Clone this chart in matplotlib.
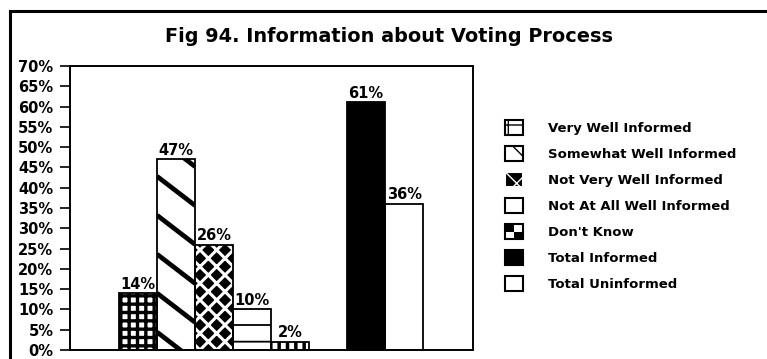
import matplotlib
matplotlib.use("Agg")
import matplotlib.pyplot as plt
from matplotlib.patches import Rectangle, Patch
from matplotlib.legend_handler import HandlerBase
from matplotlib.lines import Line2D

# ---- data -------------------------------------------------------------
categories = [
    "Very Well Informed",
    "Somewhat Well Informed",
    "Not Very Well Informed",
    "Not At All Well Informed",
    "Don't Know",
    "Total Informed",
    "Total Uninformed",
]
values = [14, 47, 26, 10, 2, 61, 36]
y_ticks = list(range(0, 75, 5))
y_tick_labels = [f"{t}%" for t in y_ticks]
title = "Fig 94. Information about Voting Process"

# ---- layout -----------------------------------------------------------
plt.rcParams["font.family"] = ["DejaVu Sans"]
fig = plt.figure(figsize=(7.67, 3.59), dpi=100)
ax = fig.add_axes([0.0913, 0.0251, 0.5254, 0.7911])

# one empty slot separates the five answers from the two totals
slots = [i if i < 5 else i + 1 for i in range(len(values))]

# fill styles per series: (facecolor, hatch, hatch colour, hatch width)
styles = [
    ("white", "++", "black", 2.4),
    ("white", None, "black", 1.0),
    ("black", "xx", "white", 2.2),
    ("white", "-", "black", 1.3),
    ("white", "||", "black", 2.5),
    ("black", None, "black", 1.0),
    ("white", None, "black", 1.0),
]

bar_patches = []
for x, v, (fc, hatch, hc, hlw) in zip(slots, values, styles):
    b = ax.bar(x, v, width=1.0, color=fc, edgecolor=hc, linewidth=0,
               hatch=hatch, zorder=2)[0]
    if hasattr(b, "set_hatch_linewidth"):
        b.set_hatch_linewidth(hlw)
    bar_patches.append(b)

# heavy diagonal stripes on the "Somewhat Well Informed" bar
sw = bar_patches[1]
xl, xr = slots[1] - 0.5, slots[1] + 0.5
stripe_period, stripe_drop = 9.6, 7.2
k = 0
while True:
    y0 = 4.4 + k * stripe_period
    if y0 - stripe_drop > values[1]:
        break
    ln, = ax.plot([xl, xr], [y0, y0 - stripe_drop], color="black", lw=3.4,
                  solid_capstyle="butt", zorder=3)
    ln.set_clip_path(sw)
    k += 1

# outlines
ax.bar(slots, values, width=1.0, fill=False, edgecolor="black",
       linewidth=1.3, zorder=4)

for x, v in zip(slots, values):
    ax.text(x, v + 0.4, f"{v}%", ha="center", va="bottom",
            fontsize=10.5, fontweight="bold", zorder=5)

ax.set_xlim(-1.79, 8.81)
ax.set_ylim(0, 70)
ax.set_yticks(y_ticks)
ax.set_yticklabels(y_tick_labels, fontsize=10.5, fontweight="bold")
ax.set_xticks([])
ax.tick_params(axis="y", direction="out", length=7, width=1.2, pad=5)
for s in ax.spines.values():
    s.set_linewidth(1.4)

fig.text(0.507, 0.883, title, ha="center", va="baseline",
         fontsize=13.9, fontweight="bold")

# frame lines along top and left of the figure
fig.add_artist(Line2D([10 / 767, 1.0], [1 - 10.5 / 359, 1 - 10.5 / 359],
                      transform=fig.transFigure, color="black", lw=2.2))
fig.add_artist(Line2D([10 / 767, 10 / 767], [0.0, 1 - 10.5 / 359],
                      transform=fig.transFigure, color="black", lw=2.2))


# ---- legend -------------------------------------------------------------
class CheckerHandler(HandlerBase):
    def create_artists(self, legend, orig_handle, xdescent, ydescent,
                       width, height, fontsize, trans):
        arts = []
        w2, h2 = width / 2, height / 2
        x0, y0 = -xdescent, -ydescent
        for i in range(2):
            for j in range(2):
                fc = "black" if (i + j) % 2 == 1 else "white"
                arts.append(Rectangle((x0 + i * w2, y0 + j * h2), w2, h2,
                                      facecolor=fc, edgecolor="none",
                                      transform=trans))
        arts.append(Rectangle((x0, y0), width, height, fill=False,
                              edgecolor="black", lw=1.5, transform=trans))
        return arts


class DKHandle:
    pass


handles = [
    Patch(facecolor="white", edgecolor="black", hatch="+", lw=1.5),
    Patch(facecolor="white", edgecolor="black", hatch="\\", lw=1.5),
    Patch(facecolor="black", edgecolor="white", hatch="x", lw=1.5),
    Patch(facecolor="white", edgecolor="black", lw=1.5),
    DKHandle(),
    Patch(facecolor="black", edgecolor="black", lw=1.5),
    Patch(facecolor="white", edgecolor="black", lw=1.5),
]
leg = fig.legend(handles, categories, loc="upper left",
                 bbox_to_anchor=(505 / 767, 1 - 120 / 359),
                 frameon=False, fontsize=9.5, borderpad=0, borderaxespad=0,
                 handlelength=1.35, handleheight=1.35, handletextpad=1.9,
                 labelspacing=0.85,
                 handler_map={DKHandle: CheckerHandler()})
for t in leg.get_texts():
    t.set_fontweight("bold")

fig.savefig("out.png", dpi=100, facecolor="white")
